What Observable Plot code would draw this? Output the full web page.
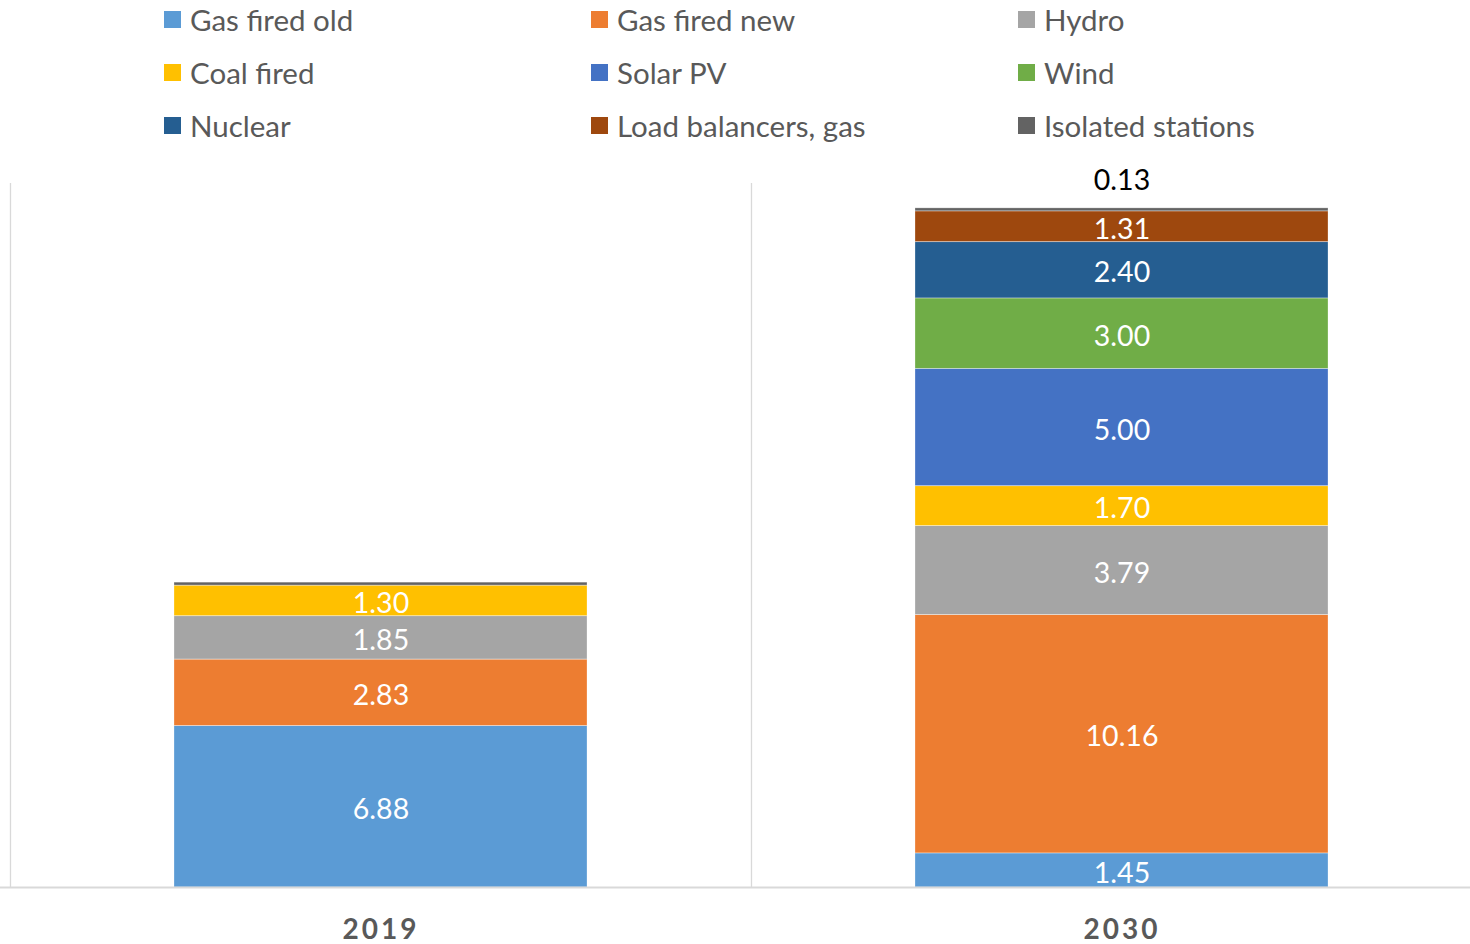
<!DOCTYPE html>
<html>
<head>
<meta charset="utf-8">
<script src="https://cdn.jsdelivr.net/npm/d3@7"></script>
<script src="https://cdn.jsdelivr.net/npm/@observablehq/plot@0.6"></script>
<style>
  html, body { margin: 0; padding: 0; background: #fff; }
  #chart { width: 1470px; height: 944px; position: relative; overflow: hidden; font-family: Lato, "Open Sans", sans-serif; }
  #legend { position: absolute; left: 164px; top: 0; width: 1300px; height: 160px; }
  .item { position: absolute; display: flex; align-items: center; height: 40px; font-size: 29.5px; color: #595959; white-space: nowrap; }
  .sw { width: 17px; height: 17px; margin-right: 9px; flex: none; }
  #plot { position: absolute; left: 0; top: 160px; }
</style>
</head>
<body>
<div id="chart">
  <div id="legend"></div>
  <div id="plot"></div>
</div>
<script>
const years = ["2019", "2030"];
const series = ["Gas fired old", "Gas fired new", "Hydro", "Coal fired", "Solar PV", "Wind", "Nuclear", "Load balancers, gas", "Isolated stations"];
const colors = ["#5B9BD5", "#ED7D31", "#A5A5A5", "#FFC000", "#4472C4", "#70AD47", "#255E91", "#9E480E", "#636363"];
const values2019 = [6.88, 2.83, 1.85, 1.30, 0, 0, 0, 0, 0.13];
const values2030 = [1.45, 10.16, 3.79, 1.70, 5.00, 3.00, 2.40, 1.31, 0.13];
const legendOrder = ["Gas fired old", "Gas fired new", "Hydro", "Coal fired", "Solar PV", "Wind", "Nuclear", "Load balancers, gas", "Isolated stations"];

const data = [];
years.forEach((yr, i) => {
  const vals = i === 0 ? values2019 : values2030;
  series.forEach((s, j) => data.push({year: yr, series: s, value: vals[j]}));
});

// Legend
const legend = document.getElementById("legend");
legendOrder.forEach((s, k) => {
  const col = k % 3, row = Math.floor(k / 3);
  const div = document.createElement("div");
  div.className = "item";
  div.style.left = (col * 427) + "px";
  div.style.top = (row * 53 - 1) + "px";
  const sw = document.createElement("span");
  sw.className = "sw";
  sw.style.background = colors[series.indexOf(s)];
  div.appendChild(sw);
  div.appendChild(document.createTextNode(s));
  legend.appendChild(div);
});

const total2030 = d3.sum(values2030);

const chart = Plot.plot({
  width: 1470,
  height: 784,
  marginTop: 23,
  marginBottom: 57,
  marginLeft: 0,
  marginRight: 0,
  style: {fontFamily: "Lato, 'Open Sans', sans-serif", background: "#fff"},
  x: {type: "band", domain: years, range: [10, 1492], paddingInner: 0.4426, paddingOuter: 0.2213, label: null},
  y: {domain: [0, 30], axis: null},
  color: {domain: series, range: colors},
  marks: [
    Plot.ruleX(years, {x: d => d, dx: -370.5, y1: 0, y2: 30, stroke: "#d9d9d9", strokeWidth: 1.3}),
    Plot.barY(data, Plot.stackY({x: "year", y: "value", z: "series", fill: "series", order: series, inset: 0})),
    Plot.barY(data, Plot.stackY({x: "year", y: "value", z: "series", order: series, fill: "none", stroke: "white", strokeOpacity: 0.35, strokeWidth: 0.8, inset: 0})),
    Plot.ruleY([0], {stroke: "#d9d9d9", strokeWidth: 2}),
    Plot.text(data, Plot.stackY({
      x: "year", y: "value", z: "series", order: series,
      text: d => d.value >= 0.5 ? d.value.toFixed(2) : "",
      fill: "white", fontSize: 28.5, dy: 3
    })),
    Plot.text([{year: "2030", total: total2030, label: values2030[8].toFixed(2)}], {
      x: "year", y: "total", text: "label", fill: "black", fontSize: 28.5, dy: -27
    }),
    Plot.axisX({tickSize: 0, tickPadding: 32, fontSize: 28, fontWeight: "bold", fill: "#595959"})
  ]
});
document.getElementById("plot").appendChild(chart);
chart.querySelectorAll("[aria-label='x-axis tick label'] text").forEach(t => t.setAttribute("letter-spacing", "3px"));
</script>
</body>
</html>
